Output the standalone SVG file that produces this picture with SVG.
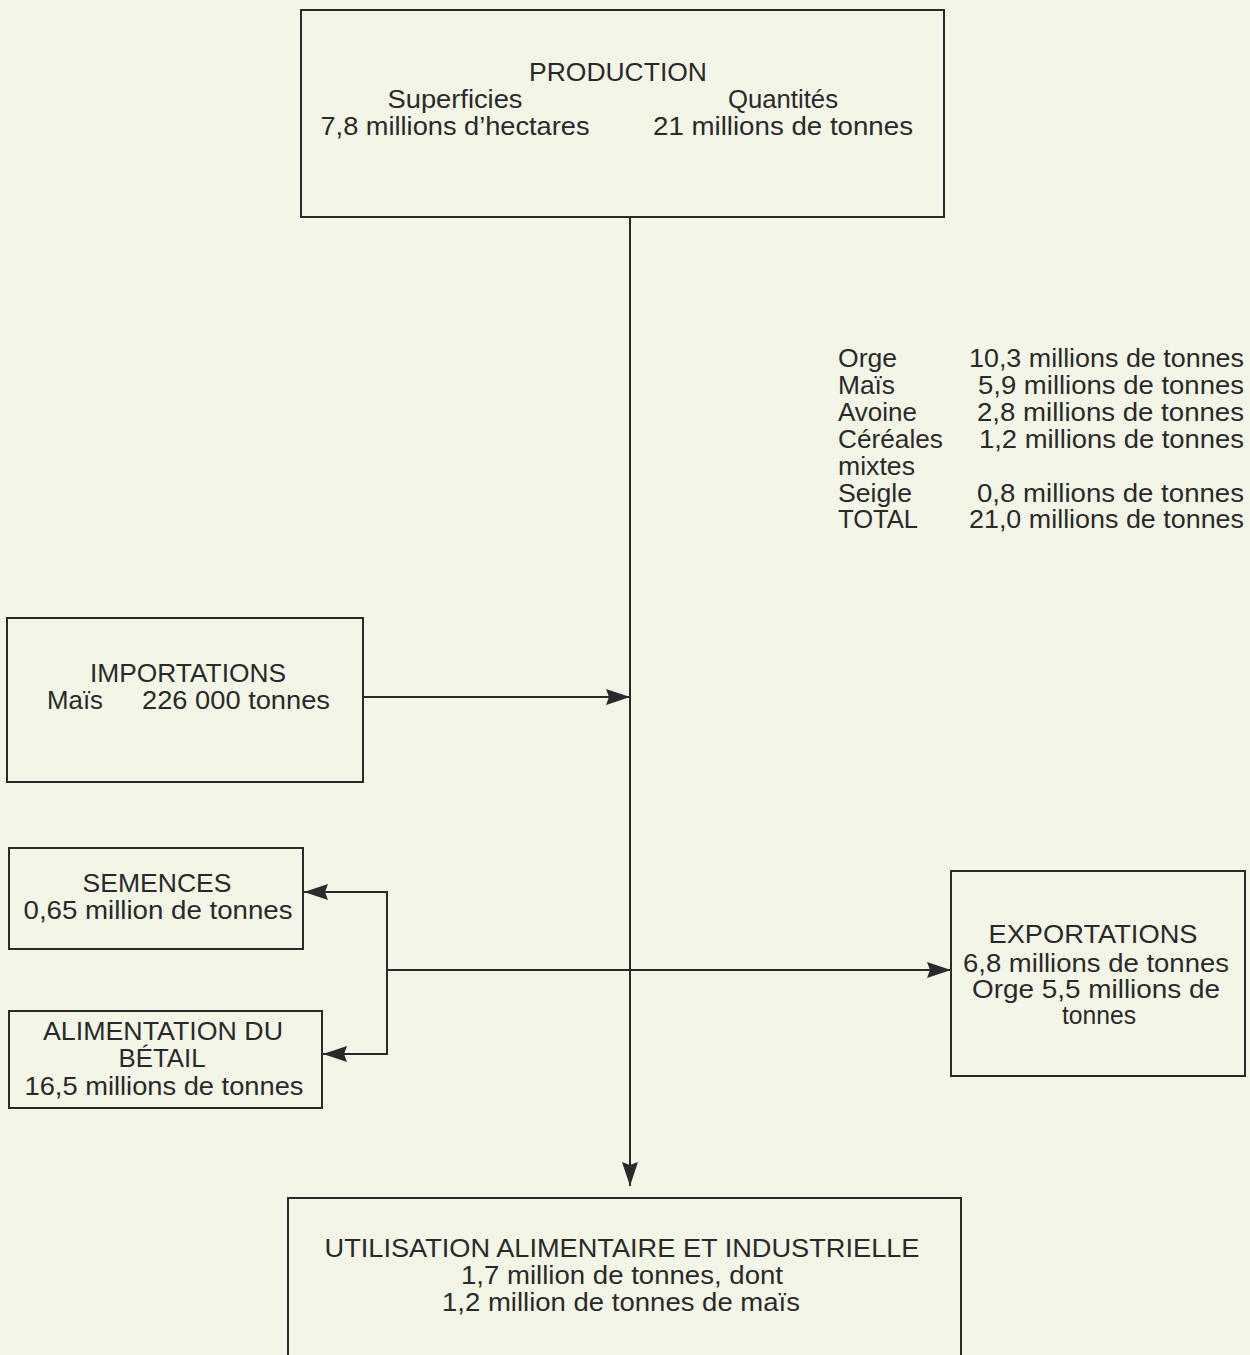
<svg xmlns="http://www.w3.org/2000/svg" width="1250" height="1355" viewBox="0 0 1250 1355">
<style>
text{font-family:"Liberation Sans",Arial,sans-serif;font-size:25px;fill:#2a2a2a}
.c{text-anchor:middle}
.r{text-anchor:end}
.box{fill:none;stroke:#2a2a2a;stroke-width:2}
.ln{fill:none;stroke:#2a2a2a;stroke-width:2}
</style>
<defs>
<marker id="ah" viewBox="0 0 24 16" refX="24" refY="8" markerWidth="24" markerHeight="16" markerUnits="userSpaceOnUse" orient="auto">
<path d="M0,0 L24,8 L0,16 L3,8 Z" fill="#2a2a2a"/>
</marker>
</defs>
<rect width="1250" height="1355" fill="#f3f5e7"/>
<g id="connectors">
<line class="ln" x1="630" y1="217" x2="630" y2="1186" marker-end="url(#ah)"/>
<line class="ln" x1="363" y1="697" x2="630" y2="697" marker-end="url(#ah)"/>
<line class="ln" x1="387" y1="970" x2="951" y2="970" marker-end="url(#ah)"/>
<line class="ln" x1="387" y1="891" x2="387" y2="1055"/>
<line class="ln" x1="387" y1="892" x2="304" y2="892" marker-end="url(#ah)"/>
<line class="ln" x1="387" y1="1054" x2="323" y2="1054" marker-end="url(#ah)"/>
</g>
<g id="production">
<rect class="box" x="301" y="10" width="643" height="207"/>
<text class="c" x="618" y="81" textLength="178" lengthAdjust="spacingAndGlyphs">PRODUCTION</text>
<text class="c" x="455" y="108" textLength="135" lengthAdjust="spacingAndGlyphs">Superficies</text>
<text class="c" x="783" y="108" textLength="110" lengthAdjust="spacingAndGlyphs">Quantités</text>
<text class="c" x="455" y="135" textLength="269" lengthAdjust="spacingAndGlyphs">7,8 millions d’hectares</text>
<text class="c" x="783" y="135" textLength="260" lengthAdjust="spacingAndGlyphs">21 millions de tonnes</text>
</g>
<g id="details">
<text x="838" y="367" textLength="59" lengthAdjust="spacingAndGlyphs">Orge</text>
<text x="838" y="394" textLength="57" lengthAdjust="spacingAndGlyphs">Maïs</text>
<text x="838" y="421" textLength="79" lengthAdjust="spacingAndGlyphs">Avoine</text>
<text x="838" y="448" textLength="105" lengthAdjust="spacingAndGlyphs">Céréales</text>
<text x="838" y="475" textLength="77" lengthAdjust="spacingAndGlyphs">mixtes</text>
<text x="838" y="502" textLength="74" lengthAdjust="spacingAndGlyphs">Seigle</text>
<text x="838" y="528" textLength="80" lengthAdjust="spacingAndGlyphs">TOTAL</text>
<text class="r" x="1244" y="367" textLength="275" lengthAdjust="spacingAndGlyphs">10,3 millions de tonnes</text>
<text class="r" x="1244" y="394" textLength="266" lengthAdjust="spacingAndGlyphs">5,9 millions de tonnes</text>
<text class="r" x="1244" y="421" textLength="267" lengthAdjust="spacingAndGlyphs">2,8 millions de tonnes</text>
<text class="r" x="1244" y="448" textLength="265" lengthAdjust="spacingAndGlyphs">1,2 millions de tonnes</text>
<text class="r" x="1244" y="502" textLength="267" lengthAdjust="spacingAndGlyphs">0,8 millions de tonnes</text>
<text class="r" x="1244" y="528" textLength="275" lengthAdjust="spacingAndGlyphs">21,0 millions de tonnes</text>
</g>
<g id="importations">
<rect class="box" x="7" y="618" width="356" height="164"/>
<text class="c" x="188" y="682" textLength="196" lengthAdjust="spacingAndGlyphs">IMPORTATIONS</text>
<text x="47" y="709" textLength="56" lengthAdjust="spacingAndGlyphs">Maïs</text>
<text x="142" y="709" textLength="188" lengthAdjust="spacingAndGlyphs">226 000 tonnes</text>
</g>
<g id="semences">
<rect class="box" x="9" y="848" width="294" height="101"/>
<text class="c" x="157" y="892" textLength="149" lengthAdjust="spacingAndGlyphs">SEMENCES</text>
<text class="c" x="158" y="919" textLength="269" lengthAdjust="spacingAndGlyphs">0,65 million de tonnes</text>
</g>
<g id="alimentation">
<rect class="box" x="9" y="1011" width="313" height="97"/>
<text class="c" x="163" y="1040" textLength="240" lengthAdjust="spacingAndGlyphs">ALIMENTATION DU</text>
<text class="c" x="162" y="1067" textLength="87" lengthAdjust="spacingAndGlyphs">BÉTAIL</text>
<text class="c" x="164" y="1095" textLength="279" lengthAdjust="spacingAndGlyphs">16,5 millions de tonnes</text>
</g>
<g id="exportations">
<rect class="box" x="951" y="871" width="294" height="205"/>
<text class="c" x="1093" y="943" textLength="209" lengthAdjust="spacingAndGlyphs">EXPORTATIONS</text>
<text class="c" x="1096" y="972" textLength="266" lengthAdjust="spacingAndGlyphs">6,8 millions de tonnes</text>
<text class="c" x="1096" y="998" textLength="248" lengthAdjust="spacingAndGlyphs">Orge 5,5 millions de</text>
<text class="c" x="1099" y="1024" textLength="74" lengthAdjust="spacingAndGlyphs">tonnes</text>
</g>
<g id="utilisation">
<rect class="box" x="288" y="1198" width="673" height="170"/>
<text class="c" x="622" y="1257" textLength="595" lengthAdjust="spacingAndGlyphs">UTILISATION ALIMENTAIRE ET INDUSTRIELLE</text>
<text class="c" x="622" y="1284" textLength="322" lengthAdjust="spacingAndGlyphs">1,7 million de tonnes, dont</text>
<text class="c" x="621" y="1311" textLength="358" lengthAdjust="spacingAndGlyphs">1,2 million de tonnes de maïs</text>
</g>
</svg>
